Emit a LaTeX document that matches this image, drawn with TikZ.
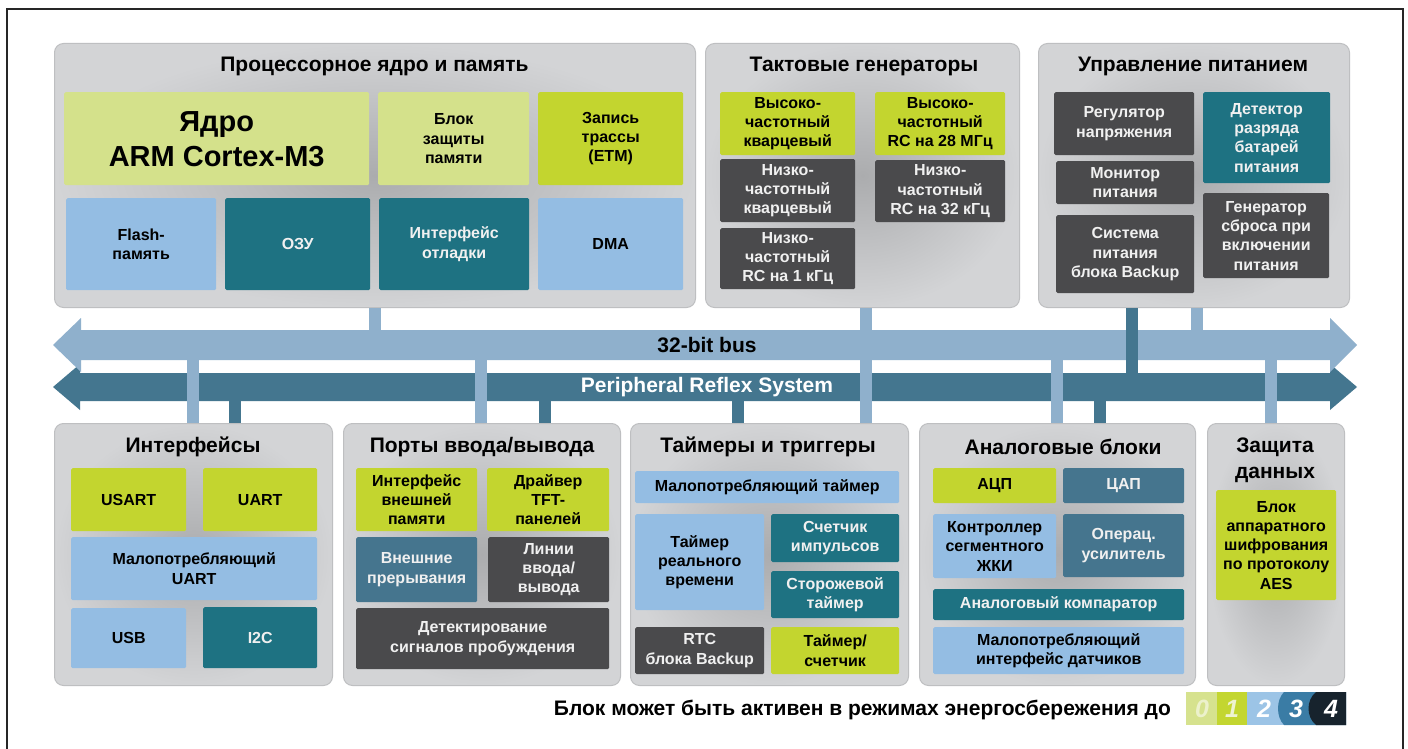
\documentclass[tikz,border=0pt]{standalone}
\usepackage{fontspec}
\setmainfont{Liberation Sans}
\usetikzlibrary{calc}
\definecolor{cLLime}{HTML}{D4E18B}
\definecolor{cLime}{HTML}{C3D52F}
\definecolor{cLBlue}{HTML}{94BDE3}
\definecolor{cTeal}{HTML}{1E7282}
\definecolor{cSteel}{HTML}{45758E}
\definecolor{cDark}{HTML}{4A4A4C}
\definecolor{cPanIn}{HTML}{ABACAE}
\definecolor{cPanOut}{HTML}{D3D4D6}
\definecolor{cPanLine}{HTML}{BEBFC1}
\definecolor{cBusL}{HTML}{8FB0CC}
\definecolor{cBusD}{HTML}{44768F}
\definecolor{cTxtW}{HTML}{F0F0F0}
\definecolor{cSeg0}{HTML}{D6E28E}
\definecolor{cSeg1}{HTML}{C3D630}
\definecolor{cSeg2}{HTML}{9CC4E6}
\definecolor{cSeg3}{HTML}{3A7CA5}
\definecolor{cSeg4}{HTML}{17232D}
\tikzset{
  sz/.style 2 args={minimum width=#1, minimum height=#2},
  panel/.style={draw=cPanLine, line width=1, rounded corners=9, inner color=cPanIn, outer color=cPanOut, anchor=north west, inner sep=0},
  ptitle/.style={font=\bfseries\fontsize{21}{25}\selectfont, text=black, align=center, inner sep=0},
  bx/.style={anchor=north west, inner sep=0, align=center, rounded corners=1.5, draw=none, font=\bfseries\fontsize{16}{19.3}\selectfont},
  lt/.style={bx, text=black},
  dk/.style={bx, text=cTxtW},
  lbar/.style={draw=cBusL, line width=12},
  dbar/.style={draw=cBusD, line width=12},
  bustxt/.style={font=\bfseries\fontsize{21}{25}\selectfont, inner sep=0},
  digit/.style={font=\bfseries\itshape\fontsize{25}{25}\selectfont, inner sep=0},
}
\begin{document}
\begin{tikzpicture}[x=1pt,y=-1pt]
\useasboundingbox (0,0) rectangle (1408,749);
\fill[white] (0,0) rectangle (1408,749);
% frame
\draw[line width=1.5, black!85] (7,749) -- (7,9) -- (1403,9) -- (1403,749);

% ---------- panels ----------
\node[panel, sz={641}{264}] (P1) at (54,43) {};
\node[panel, sz={314}{264}] (P2) at (705,43) {};
\node[panel, sz={311}{264}] (P3) at (1038,43) {};
\node[panel, sz={278}{262}] (P4) at (54,423) {};
\node[panel, sz={277}{262}] (P5) at (343,423) {};
\node[panel, sz={278}{262}] (P6) at (630,423) {};
\node[panel, sz={276}{262}] (P7) at (919,423) {};
\node[panel, sz={137}{262}] (P8) at (1207,423) {};

% titles
\node[ptitle] (T1) at (374.5,66) {Процессорное ядро и память};
\node[ptitle] (T2) at (864,66) {Тактовые генераторы};
\node[ptitle] (T3) at (1193,66) {Управление питанием};
\node[ptitle] (T4) at (193,447) {Интерфейсы};
\node[ptitle] (T5) at (482,447) {Порты ввода/вывода};
\node[ptitle] (T6) at (768,447) {Таймеры и триггеры};
\node[ptitle] (T7) at (1063,447) {Аналоговые блоки};
\node[ptitle, font=\bfseries\fontsize{21}{26}\selectfont] (T8) at (1275,460) {Защита\\данных};

% ---------- processor core & memory ----------
\node[lt, fill=cLLime, sz={305}{93}, font=\bfseries\fontsize{29}{35}\selectfont] (core) at (64,92) {Ядро\\ARM Cortex-M3};
\node[lt, fill=cLLime, sz={151}{93}] (mpu) at (378,92) {Блок\\защиты\\памяти};
\node[lt, fill=cLime, sz={145}{93}] (etm) at (538,92) {Запись\\трассы\\(ETM)};
\node[lt, fill=cLBlue, sz={150}{92}] (flash) at (66,198) {Flash-\\память};
\node[dk, fill=cTeal, sz={145}{92}] (ram) at (225,198) {ОЗУ};
\node[dk, fill=cTeal, sz={150}{92}] (dbg) at (379,198) {Интерфейс\\отладки};
\node[lt, fill=cLBlue, sz={145}{92}] (dma) at (538,198) {DMA};

% ---------- clocks ----------
\node[lt, fill=cLime, sz={135}{63}] (hfxo) at (720,92) {Высоко-\\частотный\\кварцевый};
\node[dk, fill=cDark, sz={135}{63}] (lfxo) at (720,159) {Низко-\\частотный\\кварцевый};
\node[dk, fill=cDark, sz={135}{61}] (ulfrco) at (720,228) {Низко-\\частотный\\RC на 1 кГц};
\node[lt, fill=cLime, sz={130}{63}] (hfrco) at (875,92) {Высоко-\\частотный\\RC на 28 МГц};
\node[dk, fill=cDark, sz={130}{62}] (lfrco) at (875,160) {Низко-\\частотный\\RC на 32 кГц};

% ---------- power ----------
\node[dk, fill=cDark, sz={140}{63}] (vreg) at (1054,92) {Регулятор\\напряжения};
\node[dk, fill=cDark, sz={138}{43}] (vmon) at (1056,161) {Монитор\\питания};
\node[dk, fill=cDark, sz={138}{78}] (bupw) at (1056,215) {Система\\питания\\блока Backup};
\node[dk, fill=cTeal, sz={127}{91}] (bod) at (1203,92) {Детектор\\разряда\\батарей\\питания};
\node[dk, fill=cDark, sz={126}{85}] (por) at (1203,193) {Генератор\\сброса при\\включении\\питания};

% ---------- interfaces ----------
\node[lt, fill=cLime, sz={115}{63}] (usart) at (71,468) {USART};
\node[lt, fill=cLime, sz={114}{63}] (uart) at (203,468) {UART};
\node[lt, fill=cLBlue, sz={246}{63}] (lpuart) at (71,537) {Малопотребляющий\\UART};
\node[lt, fill=cLBlue, sz={115}{60}] (usb) at (71,608) {USB};
\node[dk, fill=cTeal, sz={114}{61}] (i2c) at (203,607) {I2C};

% ---------- I/O ports ----------
\node[lt, fill=cLime, sz={121}{63}] (ebi) at (356,468) {Интерфейс\\внешней\\памяти};
\node[lt, fill=cLime, sz={122}{63}] (tft) at (487,468) {Драйвер\\TFT-\\панелей};
\node[dk, fill=cSteel, sz={121}{65}] (extint) at (356,537) {Внешние\\прерывания};
\node[dk, fill=cDark, sz={121}{65}] (gpio) at (488,537) {Линии\\ввода/\\вывода};
\node[dk, fill=cDark, sz={253}{61}] (wake) at (356,608) {Детектирование\\сигналов пробуждения};

% ---------- timers ----------
\node[lt, fill=cLBlue, sz={264}{32}] (letimer) at (635,471) {Малопотребляющий таймер};
\node[lt, fill=cLBlue, sz={129}{96}] (rtc) at (635,514) {Таймер\\реального\\времени};
\node[dk, fill=cTeal, sz={128}{48}] (pcnt) at (771,514) {Счетчик\\импульсов};
\node[dk, fill=cTeal, sz={128}{47}] (wdog) at (771,571) {Сторожевой\\таймер};
\node[dk, fill=cDark, sz={129}{47}] (burtc) at (635,627) {RTC\\блока Backup};
\node[lt, fill=cLime, sz={128}{47}] (timer) at (771,627) {Таймер/\\счетчик};

% ---------- analog ----------
\node[lt, fill=cLime, sz={123}{35}] (adc) at (933,468) {АЦП};
\node[dk, fill=cSteel, sz={121}{35}] (dac) at (1063,468) {ЦАП};
\node[lt, fill=cLBlue, sz={123}{64}] (lcd) at (933,514) {Контроллер\\сегментного\\ЖКИ};
\node[dk, fill=cSteel, sz={121}{63}] (opamp) at (1063,514) {Операц.\\усилитель};
\node[dk, fill=cTeal, sz={251}{31}] (acmp) at (933,589) {Аналоговый компаратор};
\node[lt, fill=cLBlue, sz={251}{47}] (lesense) at (933,627) {Малопотребляющий\\интерфейс датчиков};

% ---------- security ----------
\node[lt, fill=cLime, sz={120}{110}] (aes) at (1216,490) {Блок\\аппаратного\\шифрования\\по протоколу\\AES};

% ---------- buses ----------
\fill[cBusD] (53,387) -- (80,364) -- (80,373) -- (1330,373) -- (1330,364) -- (1357,387) -- (1330,410) -- (1330,401) -- (80,401) -- (80,410) -- cycle;
\fill[cBusL] (53,345) -- (81,318) -- (81,330) -- (1330,330) -- (1330,318) -- (1357,345) -- (1330,372) -- (1330,360) -- (81,360) -- (81,372) -- cycle;
\node[bustxt, text=black] (busA) at (707,345) {32-bit bus};
\node[bustxt, text=white] (busB) at (707,387) {Peripheral Reflex System};

\coordinate (lTop) at (0,330);
\coordinate (lBot) at (0,360);
\coordinate (dTop) at (0,373);
\coordinate (dBot) at (0,401);

% ---------- connector bars ----------
\draw[lbar] (P1.south -| 375,0) -- (lTop -| 375,0);
\draw[lbar] (P2.south -| 866,0) -- (P6.north -| 866,0);
\draw[dbar] (P3.south -| 1132,0) -- (dTop -| 1132,0);
\draw[lbar] (P3.south -| 1197,0) -- (lTop -| 1197,0);
\draw[lbar] (lBot -| 193,0) -- (P4.north -| 193,0);
\draw[dbar] (dBot -| 235,0) -- (P4.north -| 235,0);
\draw[lbar] (lBot -| 481,0) -- (P5.north -| 481,0);
\draw[dbar] (dBot -| 545,0) -- (P5.north -| 545,0);
\draw[dbar] (dBot -| 738,0) -- (P6.north -| 738,0);
\draw[lbar] (lBot -| 1057,0) -- (P7.north -| 1057,0);
\draw[dbar] (dBot -| 1100,0) -- (P7.north -| 1100,0);
\draw[lbar] (lBot -| 1271,0) -- (P8.north -| 1271,0);

% ---------- legend ----------
\node[anchor=east, font=\bfseries\fontsize{21}{25}\selectfont, inner sep=0] (leg) at (1171,710) {Блок может быть активен в режимах энергосбережения до};
\begin{scope}
\clip (1186,692) rectangle (1346,725);
\fill[cSeg0] (1186,692) rectangle (1346,725);
\fill[cSeg1] (1217,692) rectangle (1346,725);
\fill[cSeg2] (1247,692) rectangle (1346,725);
\fill[cSeg3] (1284,692) .. controls (1276,700) and (1276,717) .. (1284,725) -- (1346,725) -- (1346,692) -- cycle;
\fill[cSeg4] (1316,692) .. controls (1306,700) and (1306,717) .. (1316,725) -- (1346,725) -- (1346,692) -- cycle;
\end{scope}
\node[digit, text=white, opacity=0.55] (d0) at (1202,709) {0};
\node[digit, text=cLLime!40!white] (d1) at (1232,709) {1};
\node[digit, text=white] (d2) at (1264,709) {2};
\node[digit, text=white] (d3) at (1296,709) {3};
\node[digit, text=white] (d4) at (1331,709) {4};
\end{tikzpicture}
\end{document}
